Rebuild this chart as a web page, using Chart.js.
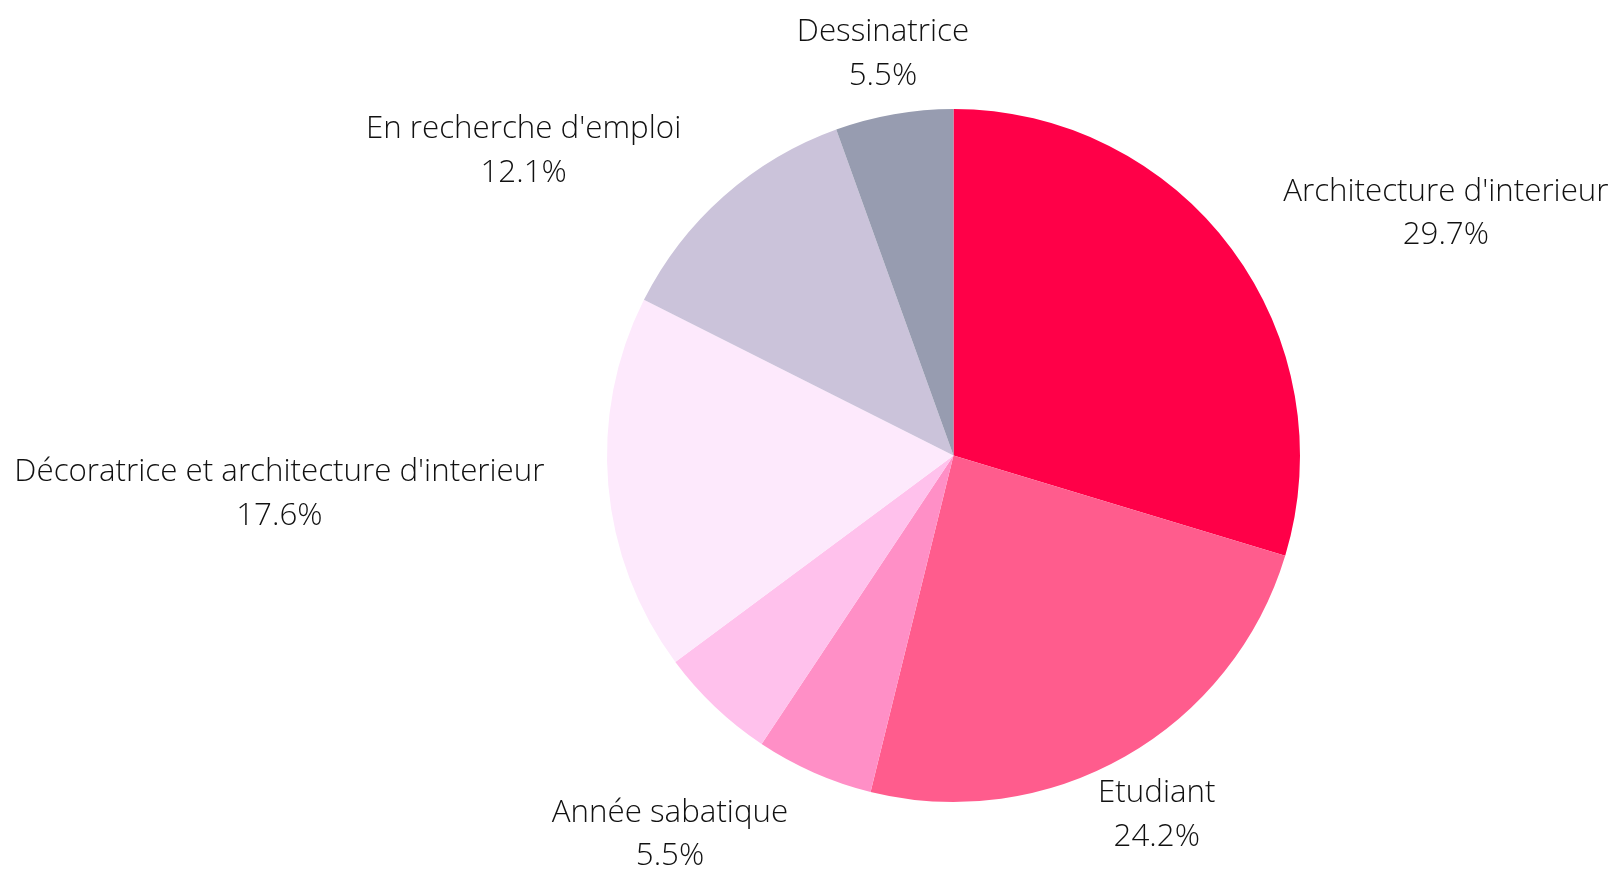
<!DOCTYPE html>
<html lang="fr">
<head>
<meta charset="utf-8">
<title>Situation actuelle</title>
<script src="https://cdn.jsdelivr.net/npm/chart.js@4/dist/chart.umd.min.js"></script>
<style>
  html, body { margin: 0; padding: 0; background: #fff; }
  #wrap { position: relative; width: 1617px; height: 872px; }
</style>
</head>
<body>
<div id="wrap"><canvas id="chart-pie"></canvas></div>
<script>
/* ── Data (counts per answer; percentages are derived) ── */
const categories = [
  "Architecture d'interieur",
  'Etudiant',
  'Année sabatique',
  '',                       // slice whose label is not shown in the reference
  "Décoratrice et architecture d'interieur",
  "En recherche d'emploi",
  'Dessinatrice',
];
const counts = [27, 22, 5, 5, 16, 11, 5];
const sliceColors = ['#ff0048', '#ff5c8d', '#ff8fc6', '#ffc1ec', '#fde9fc', '#cbc3da', '#979cb0'];

const FONT_SIZE = 31.3;
const LINE_H    = 43.5;
const total = counts.reduce((a, b) => a + b, 0);
const pct = v => (v / total * 100).toFixed(1) + '%';

// ── Outside labels: two lines (name + percent), centred when they clear the pie,
//    otherwise pushed outward. Labels that would overlap an earlier one are skipped.
const outsideLabels = {
  id: 'outsideLabels',
  afterDatasetsDraw(chart) {
    const { ctx } = chart;
    const arcs = chart.getDatasetMeta(0).data;
    const drawn = [];
    ctx.save();
    ctx.font = `300 ${FONT_SIZE}px "Open Sans"`;
    ctx.fillStyle = '#111';
    ctx.textBaseline = 'middle';
    arcs.forEach((arc, i) => {
      const name = chart.data.labels[i];
      if (!name) return;
      const lines = [name, pct(counts[i])];
      const { x: cx, y: cy, outerRadius: R, startAngle, endAngle } = arc;
      const mid = (startAngle + endAngle) / 2;
      const r = R * 1.185;
      const ax = cx + Math.cos(mid) * r;
      const ay = cy + Math.sin(mid) * r + 3;   // glyphs sit a touch low in the original
      const w = Math.max(...lines.map(t => ctx.measureText(t).width));
      const halfH = LINE_H / 2 + FONT_SIZE * 0.5;

      // centred box first
      let left = ax - w / 2;
      const top = ay - halfH, bottom = ay + halfH;
      const nx = Math.max(left, Math.min(cx, left + w));
      const ny = Math.max(top, Math.min(cy, bottom));
      if (Math.hypot(nx - cx, ny - cy) < R) {
        left = Math.cos(mid) >= 0 ? ax : ax - w;
      }
      const box = { l: left, r: left + w, t: top, b: bottom };
      if (drawn.some(o => box.l < o.r && box.r > o.l && box.t < o.b && box.b > o.t)) return;
      drawn.push(box);

      ctx.textAlign = 'center';
      lines.forEach((t, k) => {
        ctx.fillText(t, left + w / 2, ay + (k - 0.5) * LINE_H);
      });
    });
    ctx.restore();
  },
};

new Chart(document.getElementById('chart-pie'), {
  type: 'pie',
  data: {
    labels: categories,
    datasets: [{
      data: counts,
      backgroundColor: sliceColors,
      borderWidth: 0,
    }],
  },
  options: {
    responsive: true, maintainAspectRatio: false,
    animation: false,
    layout: { padding: { top: 109, bottom: 70, left: 607, right: 317 } },
    plugins: {
      legend: { display: false },
      tooltip: {
        callbacks: { label: c => ` ${c.label}: ${pct(c.raw)}` },
      },
    },
  },
  plugins: [outsideLabels],
});
</script>
</body>
</html>
